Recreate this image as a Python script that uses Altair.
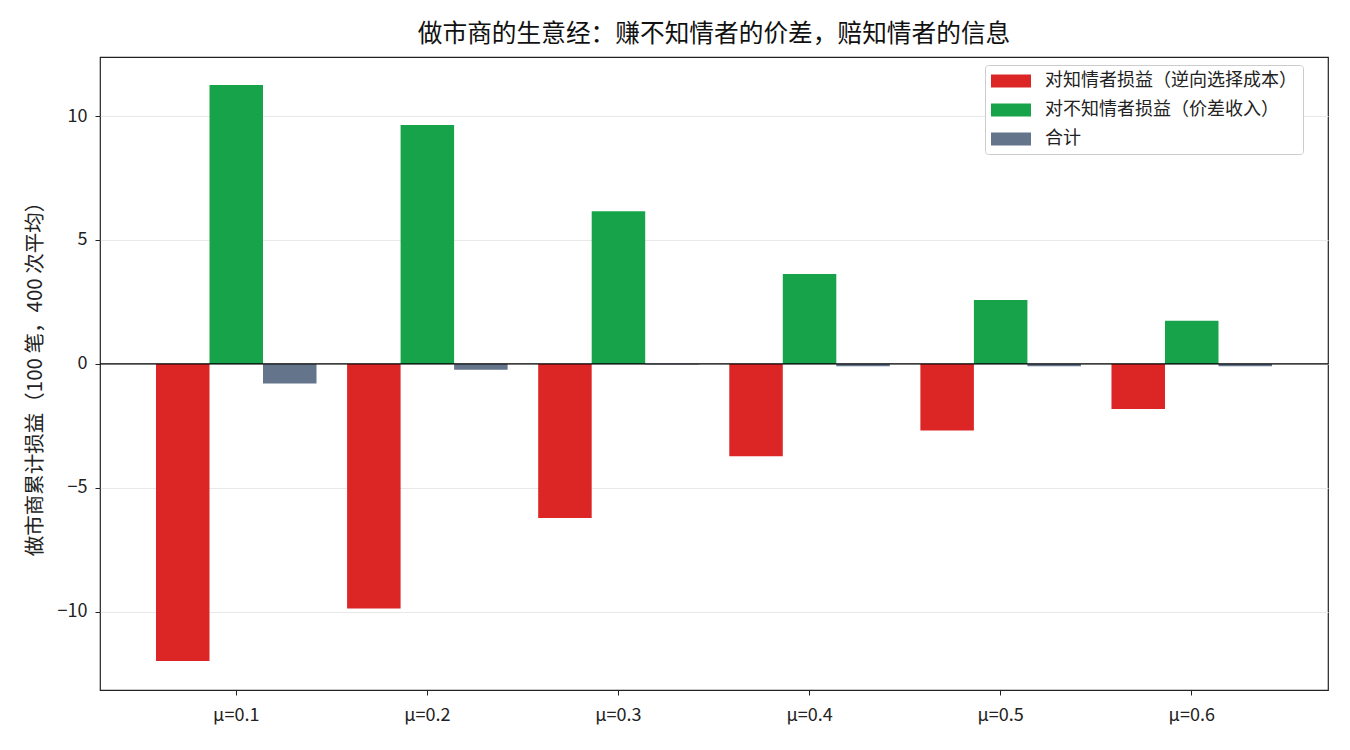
import altair as alt
import pandas as pd

categories = ["μ=0.1", "μ=0.2", "μ=0.3", "μ=0.4", "μ=0.5", "μ=0.6"]
series = ["对知情者损益（逆向选择成本）", "对不知情者损益（价差收入）", "合计"]
informed = [-11.98, -9.86, -6.21, -3.72, -2.68, -1.82]
uninformed = [11.25, 9.64, 6.16, 3.63, 2.58, 1.74]
total = [-0.79, -0.23, -0.02, -0.09, -0.09, -0.09]
colors = ["#dc2626", "#16a34a", "#64748b"]

rows = []
for i, c in enumerate(categories):
    for s, vals in zip(series, [informed, uninformed, total]):
        rows.append({"cat": c, "series": s, "value": vals[i]})
df = pd.DataFrame(rows)

FONT = "Noto Sans CJK SC"
YDOM = [-13.15, 12.38]

x = alt.X("cat:N", sort=categories, title=None,
          scale=alt.Scale(paddingInner=0.16, paddingOuter=0.293),
          axis=alt.Axis(labelAngle=0, labelFontSize=18, labelColor="#222",
                        tickColor="#222", tickSize=5, domain=False, labelPadding=11))
y = alt.Y("value:Q", title="做市商累计损益（100 笔，400 次平均）",
          scale=alt.Scale(domain=YDOM, nice=False, zero=False),
          axis=alt.Axis(values=[-10, -5, 0, 5, 10], labelFontSize=18, labelColor="#222",
                        tickColor="#222", tickSize=5, domain=False, labelPadding=8,
                        gridColor="#e8e8e8", gridWidth=1, titleFontSize=20.5,
                        titleFontWeight="normal", titleColor="#222", titlePadding=12))

bars = alt.Chart(df).mark_bar().encode(
    x=x,
    y=y,
    xOffset=alt.XOffset("series:N", sort=series, scale=alt.Scale(paddingInner=0, paddingOuter=0)),
    color=alt.Color("series:N", sort=series,
                    scale=alt.Scale(domain=series, range=colors),
                    legend=alt.Legend(title=None, orient="none", legendX=885, legendY=8,
                                      symbolType="M-1,-0.65H3V0.65H-1Z", symbolSize=400,
                                      symbolStrokeWidth=0, symbolOpacity=1,
                                      labelFontSize=18, labelColor="#222", labelOffset=34,
                                      strokeColor="#cccccc", padding=6, cornerRadius=3,
                                      fillColor="white", rowPadding=10, labelLimit=400)),
)

zero = alt.Chart(pd.DataFrame({"v": [0]})).mark_rule(color="black", strokeWidth=1.3).encode(
    y=alt.Y("v:Q", scale=alt.Scale(domain=YDOM, nice=False, zero=False)))

chart = alt.layer(bars, zero).properties(
    width=1228, height=633,
    title=alt.TitleParams("做市商的生意经：赚不知情者的价差，赔知情者的信息",
                          fontSize=24.7, fontWeight="normal", color="#111", offset=10),
    autosize="none",
    padding={"left": 100, "top": 57, "right": 22, "bottom": 60},
).configure(font=FONT).configure_view(stroke="#222", strokeWidth=1.2)

chart.save("out.html", embed_options={"renderer": "svg", "actions": False})
